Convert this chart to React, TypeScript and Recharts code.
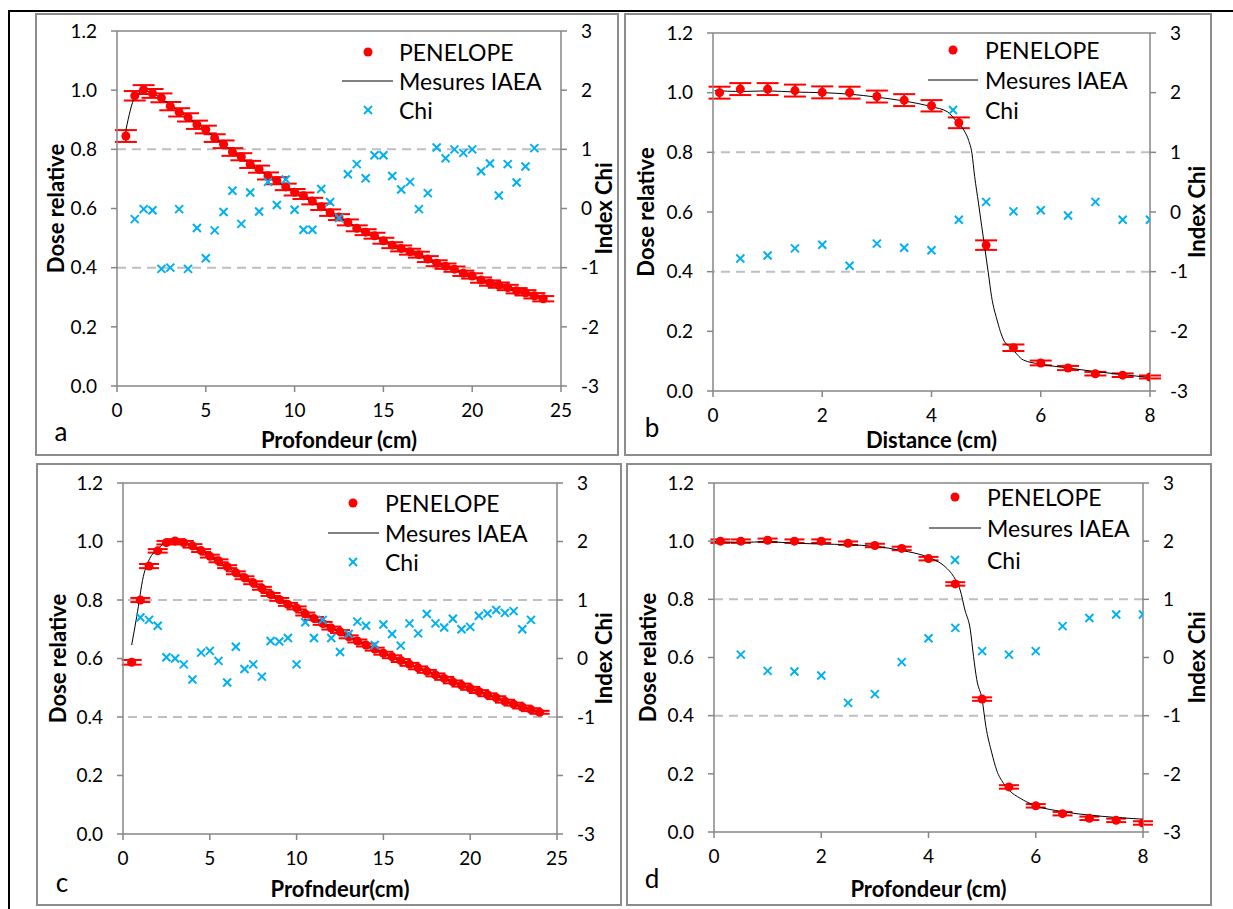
import {
  ComposedChart,
  Scatter,
  Line,
  XAxis,
  YAxis,
  ErrorBar,
  ReferenceLine,
} from "recharts";

const RED = "#FF0000";
const BLUE = "#00B0F0";
const AXIS = "#868686";
const GRID = "#BFBFBF";
const FONT = "Lato, 'Open Sans', sans-serif";

// ---- panel a : rendement en profondeur
const aX = [0.5, 1, 1.5, 2, 2.5, 3, 3.5, 4, 4.5, 5, 5.5, 6, 6.5, 7, 7.5, 8, 8.5, 9, 9.5, 10, 10.5, 11, 11.5, 12, 12.5, 13, 13.5, 14, 14.5, 15, 15.5, 16, 16.5, 17, 17.5, 18, 18.5, 19, 19.5, 20, 20.5, 21, 21.5, 22, 22.5, 23, 23.5, 24];
const aDose = [0.845, 0.981, 1.002, 0.989, 0.974, 0.946, 0.925, 0.908, 0.883, 0.867, 0.838, 0.817, 0.791, 0.775, 0.749, 0.733, 0.71, 0.694, 0.673, 0.655, 0.643, 0.625, 0.606, 0.586, 0.571, 0.553, 0.533, 0.52, 0.508, 0.491, 0.476, 0.465, 0.454, 0.444, 0.429, 0.415, 0.405, 0.395, 0.381, 0.372, 0.358, 0.348, 0.341, 0.333, 0.322, 0.315, 0.305, 0.295];
const aErr = [0.02, 0.016, 0.015, 0.015, 0.015, 0.014, 0.014, 0.014, 0.014, 0.013, 0.013, 0.013, 0.013, 0.012, 0.012, 0.012, 0.012, 0.012, 0.011, 0.011, 0.011, 0.011, 0.011, 0.011, 0.01, 0.01, 0.01, 0.01, 0.01, 0.01, 0.01, 0.01, 0.01, 0.01, 0.01, 0.01, 0.009, 0.009, 0.009, 0.009, 0.009, 0.009, 0.009, 0.009, 0.009, 0.009, 0.009, 0.009];
const aLineX = [0.5, 1, 1.5, 2, 2.5, 3, 4, 5, 6, 7, 8, 9, 10, 11, 12, 13, 14, 15, 16, 17, 18, 19, 20, 21, 22, 23, 24];
const aLineY = [0.865, 0.975, 0.997, 0.99, 0.972, 0.95, 0.907, 0.864, 0.815, 0.772, 0.73, 0.692, 0.655, 0.623, 0.586, 0.553, 0.52, 0.492, 0.465, 0.443, 0.416, 0.394, 0.371, 0.349, 0.332, 0.314, 0.297];
const aChiX = [1, 1.5, 2, 2.5, 3, 3.5, 4, 4.5, 5, 5.5, 6, 6.5, 7, 7.5, 8, 8.5, 9, 9.5, 10, 10.5, 11, 11.5, 12, 12.5, 13, 13.5, 14, 14.5, 15, 15.5, 16, 16.5, 17, 17.5, 18, 18.5, 19, 19.5, 20, 20.5, 21, 21.5, 22, 22.5, 23, 23.5];
const aChi = [-0.18, -0.01, -0.03, -1.02, -1.0, -0.01, -1.02, -0.33, -0.84, -0.37, -0.06, 0.3, -0.26, 0.27, -0.05, 0.45, 0.06, 0.49, -0.02, -0.36, -0.36, 0.33, 0.11, -0.16, 0.58, 0.75, 0.51, 0.9, 0.9, 0.55, 0.32, 0.45, -0.01, 0.26, 1.03, 0.85, 1.0, 0.94, 1.0, 0.63, 0.76, 0.22, 0.75, 0.44, 0.71, 1.02];

// ---- panel b : profil
const bX = [0.12, 0.5, 1, 1.5, 2, 2.5, 3, 3.5, 4, 4.5, 5, 5.5, 6, 6.5, 7, 7.5, 8];
const bDose = [1.0, 1.012, 1.012, 1.007, 1.001, 1.0, 0.987, 0.975, 0.956, 0.899, 0.489, 0.145, 0.094, 0.077, 0.058, 0.053, 0.047];
const bErr = [0.02, 0.02, 0.02, 0.02, 0.02, 0.02, 0.02, 0.02, 0.019, 0.018, 0.016, 0.011, 0.008, 0.007, 0.006, 0.006, 0.005];
const bLineX = [0.03, 0.5, 1, 1.5, 2, 2.5, 3, 3.5, 4, 4.3, 4.45, 4.6, 4.68, 4.74, 4.79, 4.86, 4.92, 4.98, 5.04, 5.1, 5.2, 5.32, 5.47, 5.68, 6, 6.5, 7, 7.5, 8];
const bLineY = [1.007, 1.004, 1.006, 1.002, 1.0, 0.995, 0.985, 0.972, 0.953, 0.935, 0.905, 0.872, 0.84, 0.797, 0.719, 0.63, 0.551, 0.474, 0.396, 0.316, 0.238, 0.171, 0.143, 0.104, 0.09, 0.077, 0.065, 0.055, 0.045];
const bChiX = [0.5, 1, 1.5, 2, 2.5, 3, 3.5, 4, 4.5, 5, 5.5, 6, 6.5, 7, 7.5, 8];
const bChi = [-0.78, -0.73, -0.61, -0.55, -0.9, -0.53, -0.6, -0.64, -0.13, 0.17, 0.01, 0.03, -0.06, 0.17, -0.13, -0.13];

// ---- panel c : rendement en profondeur
const cX = [0.5, 1, 1.5, 2, 2.5, 3, 3.5, 4, 4.5, 5, 5.5, 6, 6.5, 7, 7.5, 8, 8.5, 9, 9.5, 10, 10.5, 11, 11.5, 12, 12.5, 13, 13.5, 14, 14.5, 15, 15.5, 16, 16.5, 17, 17.5, 18, 18.5, 19, 19.5, 20, 20.5, 21, 21.5, 22, 22.5, 23, 23.5, 24];
const cDose = [0.587, 0.8, 0.916, 0.968, 0.996, 1.002, 0.996, 0.985, 0.969, 0.95, 0.934, 0.914, 0.893, 0.876, 0.859, 0.84, 0.819, 0.802, 0.785, 0.773, 0.752, 0.737, 0.72, 0.704, 0.692, 0.674, 0.66, 0.646, 0.632, 0.618, 0.606, 0.593, 0.58, 0.568, 0.556, 0.544, 0.532, 0.52, 0.509, 0.498, 0.487, 0.476, 0.466, 0.454, 0.444, 0.434, 0.425, 0.416];
const cErr = [0.008, 0.007, 0.007, 0.006, 0.006, 0.006, 0.006, 0.006, 0.005, 0.005, 0.005, 0.005, 0.005, 0.005, 0.005, 0.005, 0.005, 0.005, 0.005, 0.005, 0.005, 0.005, 0.005, 0.005, 0.005, 0.005, 0.005, 0.005, 0.005, 0.005, 0.005, 0.005, 0.005, 0.005, 0.005, 0.005, 0.005, 0.005, 0.005, 0.005, 0.005, 0.005, 0.005, 0.005, 0.005, 0.005, 0.005, 0.005];
const cLineX = [0.5, 0.79, 1.17, 1.55, 1.94, 2.32, 2.7, 3, 3.5, 4, 4.5, 5, 5.5, 6, 7, 8, 9, 10, 11, 12, 13, 14, 15, 16, 17, 18, 19, 20, 21, 22, 23, 24.2];
const cLineY = [0.646, 0.743, 0.88, 0.943, 0.971, 0.991, 0.999, 1.0, 0.995, 0.985, 0.969, 0.951, 0.933, 0.913, 0.875, 0.838, 0.802, 0.771, 0.738, 0.705, 0.675, 0.646, 0.618, 0.593, 0.568, 0.544, 0.52, 0.498, 0.476, 0.454, 0.434, 0.413];
const cChiX = [1, 1.5, 2, 2.5, 3, 3.5, 4, 4.5, 5, 5.5, 6, 6.5, 7, 7.5, 8, 8.5, 9, 9.5, 10, 10.5, 11, 11.5, 12, 12.5, 13, 13.5, 14, 14.5, 15, 15.5, 16, 16.5, 17, 17.5, 18, 18.5, 19, 19.5, 20, 20.5, 21, 21.5, 22, 22.5, 23, 23.5];
const cChi = [0.7, 0.66, 0.56, 0.02, 0.0, -0.1, -0.36, 0.1, 0.13, -0.04, -0.41, 0.2, -0.18, -0.1, -0.31, 0.3, 0.29, 0.35, -0.1, 0.62, 0.35, 0.66, 0.35, 0.11, 0.42, 0.63, 0.56, 0.23, 0.58, 0.42, 0.22, 0.6, 0.43, 0.76, 0.6, 0.53, 0.68, 0.5, 0.54, 0.73, 0.77, 0.83, 0.78, 0.81, 0.5, 0.66];

// ---- panel d : profil
const dX = [0.12, 0.5, 1, 1.5, 2, 2.5, 3, 3.5, 4, 4.5, 5, 5.5, 6, 6.5, 7, 7.5, 8];
const dDose = [1.0, 1.0, 1.003, 1.0, 1.0, 0.993, 0.985, 0.975, 0.94, 0.853, 0.457, 0.155, 0.09, 0.063, 0.047, 0.04, 0.031];
const dErr = [0.006, 0.006, 0.006, 0.006, 0.006, 0.006, 0.006, 0.006, 0.006, 0.006, 0.006, 0.006, 0.006, 0.006, 0.006, 0.006, 0.006];
const dLineX = [0, 0.5, 1, 1.5, 2, 2.5, 3, 3.5, 4, 4.31, 4.47, 4.59, 4.68, 4.78, 4.84, 4.9, 5, 5.07, 5.18, 5.27, 5.4, 5.5, 5.71, 5.96, 6.5, 7, 7.5, 8];
const dLineY = [0.999, 0.996, 0.998, 0.993, 0.99, 0.988, 0.982, 0.968, 0.944, 0.912, 0.878, 0.832, 0.763, 0.695, 0.603, 0.524, 0.455, 0.363, 0.272, 0.213, 0.167, 0.144, 0.116, 0.093, 0.07, 0.058, 0.05, 0.044];
const dChiX = [0.5, 1, 1.5, 2, 2.5, 3, 3.5, 4, 4.5, 5, 5.5, 6, 6.5, 7, 7.5, 8];
const dChi = [0.05, -0.23, -0.24, -0.31, -0.78, -0.63, -0.08, 0.33, 0.51, 0.11, 0.05, 0.11, 0.54, 0.68, 0.74, 0.74];

const doseTicks = [0, 0.2, 0.4, 0.6, 0.8, 1.0, 1.2];
const chiTicks = [-3, -2, -1, 0, 1, 2, 3];
const depthTicks = [0, 5, 10, 15, 20, 25];
const distTicks = [0, 2, 4, 6, 8];

const pts = (xs: number[], ys: number[]) => xs.map((x, i) => ({ x, y: ys[i] }));
const withErr = (xs: number[], ys: number[], es: number[]) =>
  xs.map((x, i) => ({ x, y: ys[i], err: es[i] }));

const Dot = (p: any) => <circle cx={p.cx} cy={p.cy} r={4.5} fill={RED} />;
const Cross = (p: any) => (
  <g stroke={BLUE} strokeWidth={2}>
    <line x1={p.cx - 4} y1={p.cy - 4} x2={p.cx + 4} y2={p.cy + 4} />
    <line x1={p.cx - 4} y1={p.cy + 4} x2={p.cx + 4} y2={p.cy - 4} />
  </g>
);

const titleStyle = { fontFamily: FONT, fontWeight: 700, fontSize: 22, fill: "#000" };
const tickStyle = { fontFamily: FONT, fontSize: 19, fill: "#000" };

const XTitle = (text: string, dy: number) => (p: any) => {
  const vb = p.viewBox;
  return (
    <text x={vb.x + vb.width / 2} y={vb.y + dy} textAnchor="middle" dominantBaseline="central" style={titleStyle}>
      {text}
    </text>
  );
};
const YTitle = (text: string, dx: number) => (p: any) => {
  const vb = p.viewBox;
  const x = vb.x + dx;
  const y = vb.y + vb.height / 2;
  return (
    <text x={x} y={y} textAnchor="middle" dominantBaseline="central" transform={`rotate(-90 ${x} ${y})`} style={titleStyle}>
      {text}
    </text>
  );
};

type Box = { left: number; top: number; width: number; height: number };
type Plot = { left: number; top: number; right: number; bottom: number };

const Panel = (props: {
  box: Box;
  plot: Plot;
  xMax: number;
  xTicks: number[];
  dose: { x: number; y: number; err: number }[];
  iaea: { x: number; y: number }[];
  chi: { x: number; y: number }[];
  xTitle: string;
  off: { x: number; l: number; r: number };
  legend: { dot: number; text: number; l1: number; l2: number; rows: number[] };
  letter: { ch: string; x: number; y: number };
  cap: number;
}) => {
  const { box, plot, legend, letter } = props;
  const L = (v: number) => v - box.left;
  const T = (v: number) => v - box.top;
  return (
    <div style={{ position: "absolute", left: box.left, top: box.top, width: box.width, height: box.height }}>
      <div style={{ position: "absolute", inset: 0, border: "2px solid #8C8C8C", boxSizing: "border-box" }} />
      <div style={{ position: "absolute", left: 0, top: 0 }}>
        <ComposedChart
          width={box.width}
          height={box.height}
          margin={{ top: plot.top - box.top, right: 0, left: 0, bottom: 0 }}
        >
          <XAxis
            type="number"
            dataKey="x"
            domain={[0, props.xMax]}
            ticks={props.xTicks}
            interval={0}
            allowDataOverflow
            height={box.top + box.height - plot.bottom}
            stroke={AXIS}
            strokeWidth={1.5}
            tick={tickStyle}
            tickMargin={12}
            label={{ content: XTitle(props.xTitle, props.off.x) }}
          />
          <YAxis
            yAxisId="l"
            type="number"
            dataKey="y"
            domain={[0, 1.2]}
            ticks={doseTicks}
            interval={0}
            allowDataOverflow
            width={plot.left - box.left}
            stroke={AXIS}
            strokeWidth={1.5}
            tick={tickStyle}
            tickMargin={14}
            tickFormatter={(v: number) => v.toFixed(1)}
            label={{ content: YTitle("Dose relative", props.off.l) }}
          />
          <YAxis
            yAxisId="r"
            orientation="right"
            type="number"
            dataKey="y"
            domain={[-3, 3]}
            ticks={chiTicks}
            interval={0}
            allowDataOverflow
            width={box.left + box.width - plot.right}
            stroke={AXIS}
            strokeWidth={1.5}
            tick={tickStyle}
            tickMargin={14}
            label={{ content: YTitle("Index Chi", props.off.r) }}
          />
          <ReferenceLine yAxisId="r" y={1} stroke={GRID} strokeWidth={2} strokeDasharray="9 6" />
          <ReferenceLine yAxisId="r" y={-1} stroke={GRID} strokeWidth={2} strokeDasharray="9 6" />
          <ReferenceLine yAxisId="l" y={1.2} stroke={AXIS} strokeWidth={1.5} />
          <Scatter yAxisId="l" data={props.dose} dataKey="y" shape={Dot} isAnimationActive={false}>
            <ErrorBar dataKey="err" direction="y" width={props.cap} stroke={RED} strokeWidth={2} />
          </Scatter>
          <Line
            yAxisId="l"
            data={props.iaea}
            dataKey="y"
            type="monotone"
            stroke="#000"
            strokeWidth={1}
            dot={false}
            activeDot={false}
            isAnimationActive={false}
          />
          <Scatter yAxisId="r" data={props.chi} dataKey="y" shape={Cross} isAnimationActive={false} />
        </ComposedChart>
      </div>
      <svg
        width={box.width}
        height={box.height}
        style={{ position: "absolute", left: 0, top: 0, pointerEvents: "none" }}
      >
        <g style={{ fontFamily: FONT, fontSize: 23, fill: "#000" }}>
          <circle cx={L(legend.dot)} cy={T(legend.rows[0])} r={4.5} fill={RED} />
          <text x={L(legend.text)} y={T(legend.rows[0])} dominantBaseline="central">PENELOPE</text>
          <line x1={L(legend.l1)} x2={L(legend.l2)} y1={T(legend.rows[1])} y2={T(legend.rows[1])} stroke="#000" strokeWidth={1} />
          <text x={L(legend.text)} y={T(legend.rows[1])} dominantBaseline="central">Mesures IAEA</text>
          <Cross cx={L(legend.dot)} cy={T(legend.rows[2])} />
          <text x={L(legend.text)} y={T(legend.rows[2])} dominantBaseline="central">Chi</text>
        </g>
        <text x={L(letter.x)} y={T(letter.y)} textAnchor="middle" style={{ fontFamily: FONT, fontSize: 26, fill: "#000" }}>
          {letter.ch}
        </text>
      </svg>
    </div>
  );
};

export default function App() {
  return (
    <div style={{ position: "absolute", left: 0, top: 0, width: 1233, height: 909, background: "#fff", overflow: "hidden" }}>
      <div
        style={{
          position: "absolute",
          left: 8,
          top: 10,
          width: 1240,
          height: 920,
          borderTop: "2px solid #000",
          borderLeft: "2px solid #000",
        }}
      />
      <Panel
        box={{ left: 35, top: 13, width: 584, height: 443 }}
        plot={{ left: 117, top: 31, right: 561, bottom: 386 }}
        xMax={25}
        xTicks={depthTicks}
        dose={withErr(aX, aDose, aErr)}
        iaea={pts(aLineX, aLineY)}
        chi={pts(aChiX, aChi)}
        xTitle="Profondeur (cm)"
        off={{ x: 53, l: 20, r: 42 }}
        legend={{ dot: 368, text: 399, l1: 342, l2: 393, rows: [52, 81, 110] }}
        letter={{ ch: "a", x: 61, y: 441 }}
        cap={11}
      />
      <Panel
        box={{ left: 624, top: 13, width: 588, height: 443 }}
        plot={{ left: 713, top: 33, right: 1150, bottom: 391 }}
        xMax={8}
        xTicks={distTicks}
        dose={withErr(bX, bDose, bErr)}
        iaea={pts(bLineX, bLineY)}
        chi={pts(bChiX, bChi)}
        xTitle="Distance (cm)"
        off={{ x: 48, l: 21, r: 46 }}
        legend={{ dot: 953, text: 985, l1: 928, l2: 978, rows: [50, 80, 110] }}
        letter={{ ch: "b", x: 652, y: 437 }}
        cap={11}
      />
      <Panel
        box={{ left: 36, top: 463, width: 586, height: 443 }}
        plot={{ left: 123, top: 483, right: 557, bottom: 834 }}
        xMax={25}
        xTicks={depthTicks}
        dose={withErr(cX, cDose, cErr)}
        iaea={pts(cLineX, cLineY)}
        chi={pts(cChiX, cChi)}
        xTitle="Profndeur(cm)"
        off={{ x: 54, l: 21, r: 46 }}
        legend={{ dot: 353, text: 385, l1: 328, l2: 379, rows: [503, 533, 562] }}
        letter={{ ch: "c", x: 62, y: 892 }}
        cap={10}
      />
      <Panel
        box={{ left: 626, top: 463, width: 586, height: 443 }}
        plot={{ left: 714, top: 483, right: 1143, bottom: 832 }}
        xMax={8}
        xTicks={distTicks}
        dose={withErr(dX, dDose, dErr)}
        iaea={pts(dLineX, dLineY)}
        chi={pts(dChiX, dChi)}
        xTitle="Profondeur (cm)"
        off={{ x: 56, l: 21, r: 53 }}
        legend={{ dot: 955, text: 987, l1: 929, l2: 981, rows: [497, 528, 560] }}
        letter={{ ch: "d", x: 652, y: 888 }}
        cap={10}
      />
    </div>
  );
}
